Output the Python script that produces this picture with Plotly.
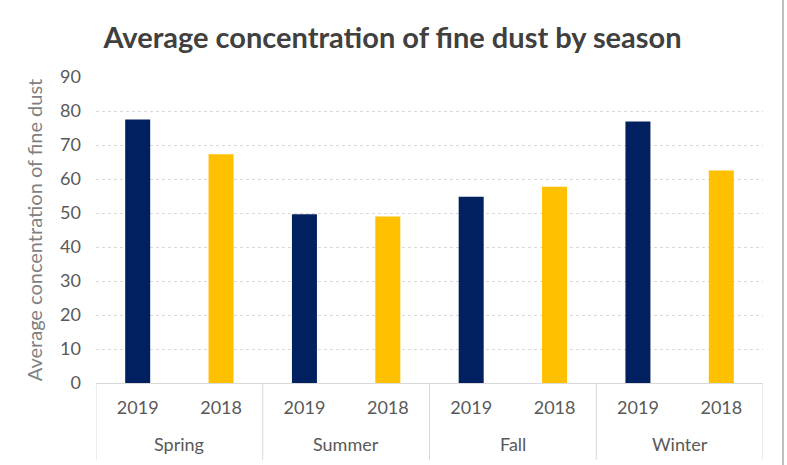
import plotly.graph_objects as go

seasons = ["Spring", "Summer", "Fall", "Winter"]
years = ["2019", "2018"]
values_2019 = [77.5, 49.6, 54.8, 76.9]
values_2018 = [67.3, 49.0, 57.7, 62.5]
colors = {"2019": "#002060", "2018": "#FFC000"}

x_keys, x_text, y_vals, bar_colors = [], [], [], []
for i, s in enumerate(seasons):
    for yr, vals in (("2019", values_2019), ("2018", values_2018)):
        x_keys.append(f"{s} {yr}")
        x_text.append(yr)
        y_vals.append(vals[i])
        bar_colors.append(colors[yr])

fig = go.Figure(go.Bar(
    x=x_keys, y=y_vals,
    marker=dict(color=bar_colors, line=dict(width=0)),
    showlegend=False,
))

W, H = 787, 465
L, R, T, B = 96, 24, 77, 82
plot_h = H - T - B
plot_w = W - L - R
n_per = len(years)
div_bottom = (T + plot_h - 460) / plot_h
season_y = (T + plot_h - 444) / plot_h

shapes = []
for g in range(len(seasons) + 1):
    xv = g * n_per - 0.5
    shapes.append(dict(type="line", xref="x", yref="paper", x0=xv, x1=xv,
                       y0=0, y1=div_bottom, line=dict(color="#D9D9D9", width=1)))
shapes.append(dict(type="line", xref="paper", yref="paper",
                   x0=(783 - L) / plot_w, x1=(783 - L) / plot_w,
                   y0=(T + plot_h - H) / plot_h, y1=(T + plot_h) / plot_h,
                   line=dict(color="#BFBFBF", width=2)))

annotations = []
for g, s in enumerate(seasons):
    annotations.append(dict(text=s, xref="x", yref="paper",
                            x=g * n_per + (n_per - 1) / 2, y=season_y,
                            xanchor="center", yanchor="middle", showarrow=False,
                            font=dict(size=18, color="#595959")))

fig.update_layout(
    width=W, height=H,
    margin=dict(l=L, r=R, t=T, b=B),
    paper_bgcolor="white", plot_bgcolor="white",
    bargap=0.7,
    font=dict(family="Lato, Carlito, sans-serif", color="#595959"),
    title=dict(text="<b>Average concentration of fine dust by season</b>",
               x=(105 + 680) / 2 / W, xanchor="center", y=1 - 38 / H, yanchor="middle",
               font=dict(size=29, color="#404040")),
    yaxis=dict(range=[0, 90], dtick=10, showgrid=True, gridcolor="#D9D9D9",
               griddash="3px,3px", gridwidth=1, zeroline=False,
               tickfont=dict(size=18, color="#595959"),
               ticks="", ticklen=0, ticklabelstandoff=14,
               title=dict(text="Average concentration of fine dust",
                          font=dict(size=20, color="#7F7F7F"), standoff=12)),
    xaxis=dict(type="category", range=[-0.5, len(x_keys) - 0.5],
               tickvals=x_keys, ticktext=x_text,
               showline=True, linecolor="#D9D9D9", linewidth=1,
               showgrid=False, tickfont=dict(size=18, color="#595959"),
               ticks="", ticklabelstandoff=8),
    shapes=shapes,
    annotations=annotations,
)

fig.write_html("out.html")
